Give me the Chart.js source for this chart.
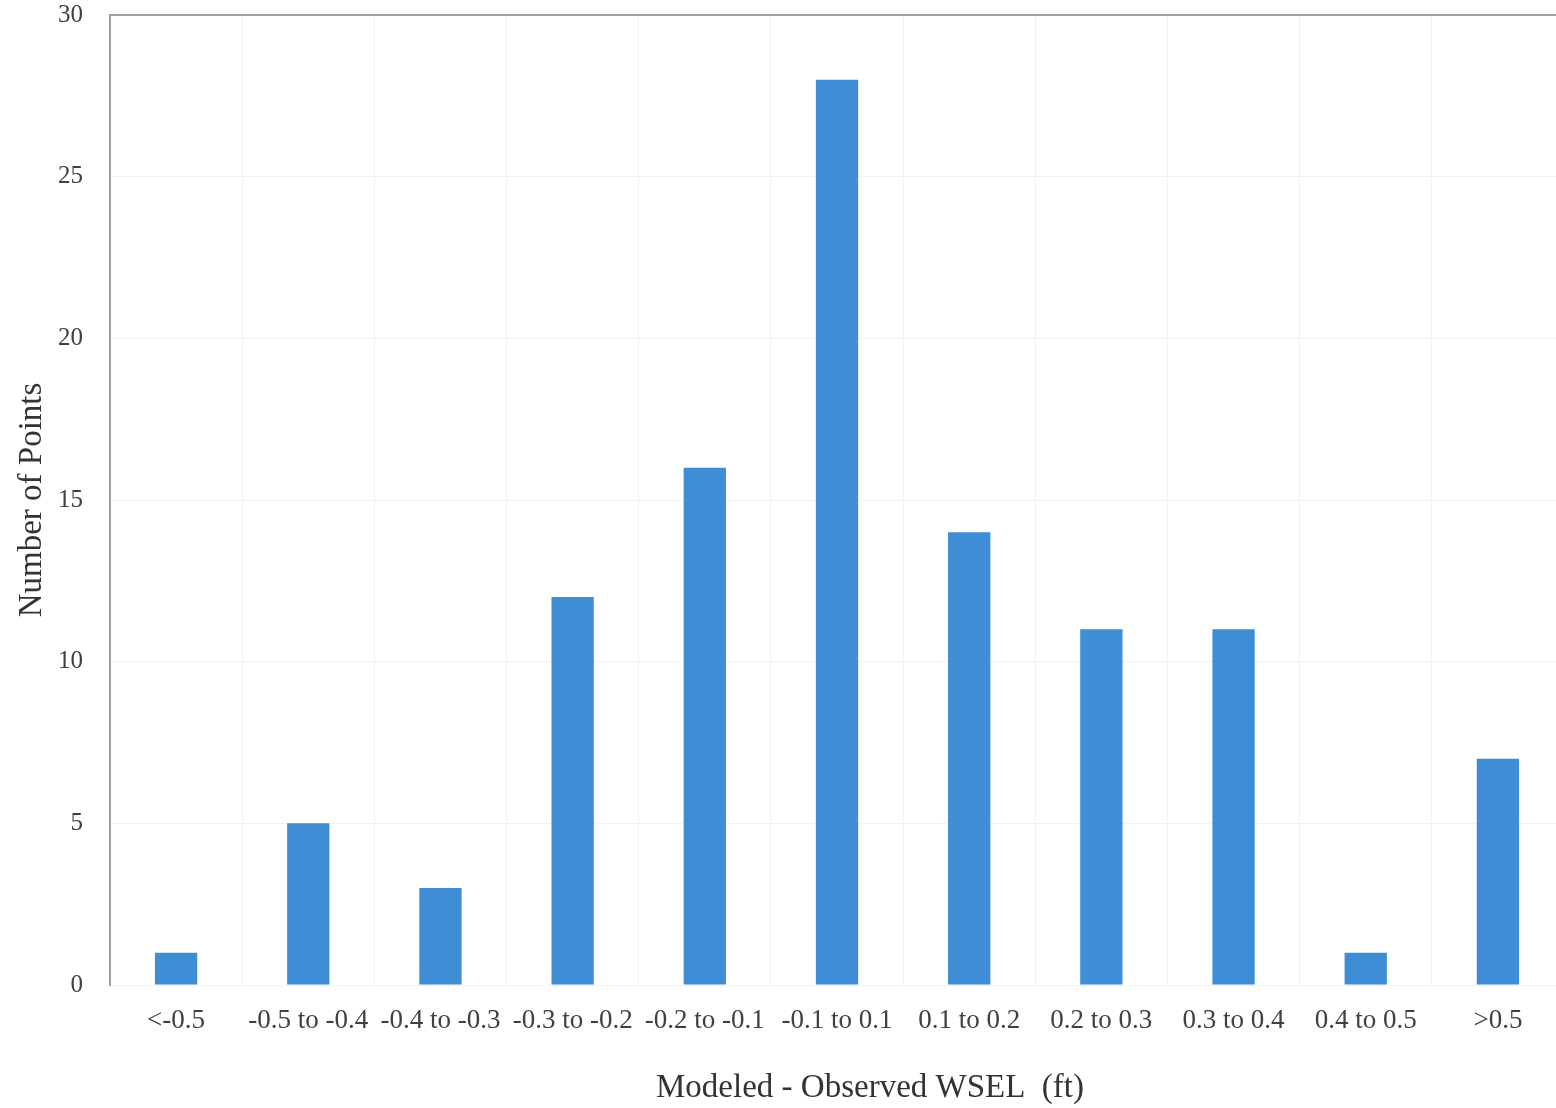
<!DOCTYPE html>
<html>
<head>
<meta charset="utf-8">
<script src="https://cdn.jsdelivr.net/npm/chart.js@4.4.1/dist/chart.umd.min.js"></script>
<style>
  html, body { margin: 0; padding: 0; background: #fff; overflow: hidden; }
  #wrap { width: 1564px; height: 1108px; }
</style>
</head>
<body>
<div id="wrap"><canvas id="histChart"></canvas></div>
<script>
const categories = ["<-0.5", "-0.5 to -0.4", "-0.4 to -0.3", "-0.3 to -0.2", "-0.2 to -0.1",
  "-0.1 to 0.1", "0.1 to 0.2", "0.2 to 0.3", "0.3 to 0.4", "0.4 to 0.5", ">0.5"];
const counts = [1, 5, 3, 12, 16, 28, 14, 11, 11, 1, 7];
const yTicks = [0, 5, 10, 15, 20, 25, 30];

const serif = "'Liberation Serif', 'DejaVu Serif', serif";

const ctx = document.getElementById("histChart");
const histChart = new Chart(ctx, {
  type: 'bar',
  data: {
    labels: categories,
    datasets: [{
      label: "Number of Points",
      data: counts,
      backgroundColor: "#3E8DD5",
      borderWidth: 0,
      barPercentage: 0.32,
      categoryPercentage: 1.0
    }]
  },
  options: {
    responsive: true,
    maintainAspectRatio: false,
    animation: false,
    layout: { padding: { left: 0, right: 0, top: 15, bottom: 0 } },
    plugins: {
      legend: { display: false },
      tooltip: { enabled: false }
    },
    scales: {
      x: {
        offset: true,
        grid: { offset: true, color: "#f1f1f1", lineWidth: 1, drawTicks: false },
        border: { display: false },
        ticks: {
          color: "#404040",
          padding: 20,
          maxRotation: 0,
          autoSkip: false,
          font: { family: serif, size: 27 }
        },
        title: {
          display: true,
          // leading spaces nudge the title right, as in the original
          text: "        Modeled - Observed WSEL  (ft)",
          color: "#333",
          padding: { top: 1, bottom: 0 },
          font: { family: serif, size: 33 }
        },
        afterFit: (scale) => {
          scale.height = 123;
          scale.paddingLeft = 0;
          scale.paddingRight = 0;
        }
      },
      y: {
        min: 0,
        max: 30,
        afterBuildTicks: (scale) => { scale.ticks = yTicks.map(v => ({ value: v })); },
        grid: {
          drawTicks: false,
          color: (c) => c.tick && c.tick.value === 30 ? "#a0a0a0" : "#f3f3f3",
          lineWidth: (c) => c.tick && c.tick.value === 30 ? 2 : 1
        },
        border: { display: true, color: "#a0a0a0", width: 2 },
        ticks: {
          color: "#404040",
          padding: 27,
          font: { family: serif, size: 25 }
        },
        title: {
          display: true,
          text: "Number of Points",
          color: "#333",
          padding: { top: 13, bottom: 0 },
          font: { family: serif, size: 33 }
        },
        afterFit: (scale) => {
          scale.width = 110;
          scale.paddingTop = 0;
          scale.paddingBottom = 0;
        }
      }
    }
  }
});
</script>
</body>
</html>
